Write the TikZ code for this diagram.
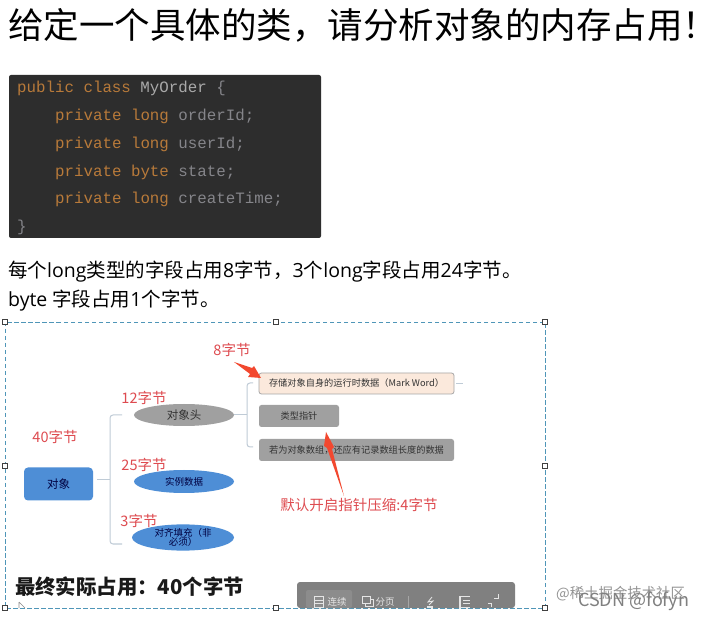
\documentclass[tikz,border=0pt]{standalone}
\usepackage{fontspec}
\setmainfont{Noto Sans CJK SC}
\setmonofont{Liberation Mono}
\newfontfamily\lat{Open Sans}
\newfontfamily\haltcjk[RawFeature=+halt]{Noto Sans CJK SC}
\usetikzlibrary{shapes.geometric}
\definecolor{kw}{HTML}{B87A3A}
\definecolor{idn}{HTML}{85858A}
\definecolor{cls}{HTML}{A9A9A9}
\definecolor{codebg}{HTML}{2D2D2D}
\definecolor{redtxt}{HTML}{DE4B50}
\definecolor{arrowred}{HTML}{F2482F}
\definecolor{selblue}{HTML}{4F96B8}
\definecolor{branchc}{HTML}{BFCBD6}
\definecolor{blueb}{HTML}{4E8ED6}
\definecolor{greyb}{HTML}{A0A0A0}
\definecolor{peach}{HTML}{FBE9DC}
\newcommand{\fs}[1]{\fontsize{#1}{#1}\selectfont}
\tikzset{
  txt/.style={inner sep=0pt,anchor=west,text=black},
  codeline/.style={inner sep=0pt,anchor=base west,font=\ttfamily\fs{15.8}},
  redlabel/.style={inner sep=0pt,text=redtxt,font=\fs{14.5}},
  blueellipse/.style={ellipse,draw=none,fill=blueb,inner sep=0pt,text=black!75!blue,font=\fs{9.5}},
  greybox/.style={rounded corners=2.5pt,draw=none,fill=greyb,inner sep=0pt,text=black!80,font=\fs{9.2}},
  branch/.style={draw=branchc,line width=1pt,rounded corners=3pt},
  handle/.style={draw=black!75,fill=white,line width=.6pt,minimum size=4.6pt,inner sep=0pt},
  sel/.style={draw=selblue,line width=.8pt,dash pattern=on 4.5pt off 2.5pt},
  redarrow/.style={fill=arrowred,draw=none},
  tool/.style={inner sep=0pt,text=white!90!black,font=\fs{9.5}},
  toolicon/.style={draw=white!90!black,line width=.8pt}
}
\begin{document}
\begin{tikzpicture}[x=1pt,y=-1pt]
\useasboundingbox (0,0) rectangle (705,620);
\fill[white] (0,0) rectangle (705,620);
% title
\node[txt,font=\fs{35.5}] (title) at (8,25) {给定一个具体的类，请分析对象的内存占用{\haltcjk ！}};
% code block
\node[draw=none,fill=codebg,rounded corners=2pt,minimum width=312pt,minimum height=163pt,inner sep=0pt] (code) at (165,156.5) {};
\node[codeline] (c1) at (17,93) {\textcolor{kw}{public class }\textcolor{cls}{MyOrder }\textcolor{idn}{\{}};
\node[codeline] (c2) at (55,121) {\textcolor{kw}{private long }\textcolor{idn}{orderId;}};
\node[codeline] (c3) at (55,148.5) {\textcolor{kw}{private long }\textcolor{idn}{userId;}};
\node[codeline] (c4) at (55,176.5) {\textcolor{kw}{private byte }\textcolor{idn}{state;}};
\node[codeline] (c5) at (55,204) {\textcolor{kw}{private long }\textcolor{idn}{createTime;}};
\node[codeline] (c6) at (17,232) {\textcolor{idn}{\}}};
% body text
\node[txt,font=\fs{19.5}] (b1) at (8,272) {每个{\lat long}类型的字段占用{\lat 8}字节，{\lat 3}个{\lat long}字段占用{\lat 24}字节。};
\node[txt,font=\fs{19.5}] (b2) at (8,301) {{\lat byte }字段占用{\lat 1}个字节。};
% selection frame
\draw[sel] (5,322) rectangle (545,608);
\foreach \n/\x/\y in {h1/5/322,h2/276/322,h3/545/322,h4/5/466,h5/545/466,h6/5/608,h7/276/608,h8/545/608}
  \node[handle] (\n) at (\x,\y) {};
% diagram nodes
\node[rounded corners=4pt,fill=blueb,minimum width=69pt,minimum height=33pt,inner sep=0pt,text=black!75!blue,font=\fs{11.5}] (obj) at (58.5,484) {对象};
\node[ellipse,fill=greyb,minimum width=100pt,minimum height=22pt,inner sep=0pt,text=black!80,font=\fs{11.5}] (head) at (184,415) {对象头};
\node[blueellipse,minimum width=100pt,minimum height=23pt] (inst) at (184,481.5) {实例数据};
\node[blueellipse,minimum width=102pt,minimum height=23pt,align=center] (pad) at (183,537.5) {对齐填充（非\\必须）};
\node[greybox,fill=peach,draw=black!35,line width=.8pt,minimum width=195pt,minimum height=21pt] (mark) at (356.5,383.5) {存储对象自身的运行时数据（Mark Word）};
\node[greybox,minimum width=80pt,minimum height=22pt] (klass) at (299,416) {类型指针};
\node[greybox,minimum width=195pt,minimum height=22pt] (arr) at (356.5,450) {若为对象数组，还应有记录数组长度的数据};
% branches
\coordinate (bus1) at (110,480);
\coordinate (bus1a) at (122,415);
\coordinate (bus1c) at (122,544);
\coordinate (bus2) at (247,415);
\coordinate (bus2a) at (253,383);
\coordinate (bus2c) at (253,447);
\coordinate (stub) at (463,383);
\draw[branch,shorten <=4pt] (obj.east |- bus1) -- (bus1);
\draw[branch] (bus1a) -- (bus1 |- bus1a) -- (bus1 |- bus1c) -- (bus1c);
\draw[branch] (head.east) -- (bus2);
\draw[branch] (bus2a) -- (bus2 |- bus2a) -- (bus2 |- bus2c) -- (bus2c);
\draw[branch,line width=.7pt,shorten <=2pt] (mark.east |- stub) -- (stub);
% red labels
\node[redlabel] (l40) at (55,437) {40字节};
\node[redlabel] (l12) at (144,398) {12字节};
\node[redlabel] (l25) at (144,465) {25字节};
\node[redlabel] (l3) at (139,521) {3字节};
\node[redlabel] (l8) at (232,350) {8字节};
\node[redlabel] (lptr) at (359,505) {默认开启指针压缩:4字节};
% red arrows
\fill[redarrow] (234,362) -- (252,368) -- (254,366) -- (261,378) -- (248,377) -- (250,374) -- cycle;
\fill[redarrow] (344,496) -- (332,449) -- (334,447) -- (326,432) -- (324,446) -- (327,448) -- cycle;
% summary
\node[txt,font=\bfseries\fs{20.4},text=black!90] (final) at (15,587) {最终实际占用：40个字节};
% cursor
\draw[black!45,line width=.6pt] (19,602) -- (19,608) (19,602) -- (25,608);
% toolbar
\fill[black!50,rounded corners=3pt] (297,582) -- (297,608) -- (515,608) -- (515,582) -- cycle;
\fill[black!45,rounded corners=2pt] (306,590) rectangle (352,608);
\draw[toolicon] (314,596) rectangle (323,607) (314,600) -- (323,600) (314,603.5) -- (323,603.5);
\node[tool] (t1) at (337,602) {连续};
\draw[toolicon] (362,596) rectangle (370,603) (365,603) -- (365,606) -- (373,606) -- (373,599) -- (370,599);
\node[tool] (t2) at (385,602) {分页};
\draw[black!35,line width=.7pt] (408,596) -- (408,608);
\draw[toolicon] (432,597) -- (428,602) -- (433,601) -- (429,605);
\fill[white!90!black] (427,606) rectangle (433,608);
\draw[toolicon] (459,596) rectangle (460,607) (459,596) -- (470,596) (459,607) -- (470,607) (463,600) -- (470,600) (463,603.5) -- (470,603.5);
\draw[toolicon] (498,594) -- (498,598) -- (494,598) (488,603) -- (491,603) -- (491,607);
% watermarks
\node[inner sep=0pt,anchor=west,text=black!42,font=\fs{14.4}] (wm1) at (556,594) {@稀土掘金技术社区};
\node[inner sep=0pt,anchor=west,text=black!50,font=\fs{18}] (wm2) at (578,601) {CSDN @fofyn};
\end{tikzpicture}
\end{document}
